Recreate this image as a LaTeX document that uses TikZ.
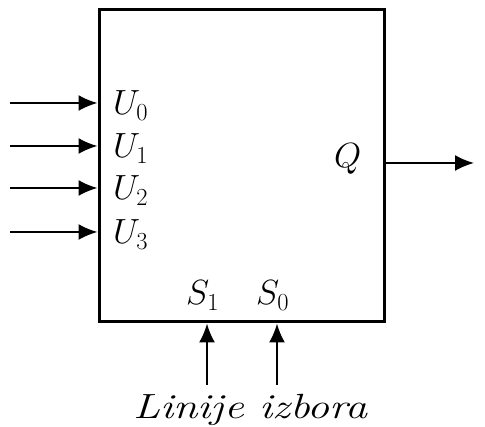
\RequirePackage{fix-cm}
\documentclass[tikz,border=0pt]{standalone}
\usepackage{graphicx}
\usetikzlibrary{arrows.meta}
\begin{document}
\begin{tikzpicture}[
      x=1pt, y=1pt,
      block/.style={draw, line width=3pt, minimum width=285pt, minimum height=312pt, inner sep=0pt},
      signal/.style={draw, -{Latex[length=19pt,width=16pt]}, line width=2pt},
      every node/.style={font=\fontsize{35}{42}\selectfont, inner sep=0pt}
    ]
      \useasboundingbox (0,0) rectangle (485,427);
      \node[block] (mux) at (241.5,261) {};
      % inputs
      \foreach \i/\y in {0/324, 1/281, 2/239, 3/195} {
        \coordinate (in\i) at (10,\y);
        \draw[signal] (in\i) -- (in\i -| mux.west);
        \node[anchor=base west] (u\i) at (113,\y-12) {$U_{\i}$};
      }
      % output
      \node[anchor=base west] (q) at (334,259) {$Q$};
      \coordinate (out) at (474,264);
      \draw[signal] (out -| mux.east) -- (out);
      % select lines
      \node[anchor=base west] (s1) at (186,122) {$S_1$};
      \node[anchor=base west] (s0) at (256,122) {$S_0$};
      \coordinate (sel1) at (207,42);
      \coordinate (sel0) at (277,42);
      \draw[signal] (sel1) -- (sel1 |- mux.south);
      \draw[signal] (sel0) -- (sel0 |- mux.south);
      \node[anchor=base west] (sel) at (133,8) {\resizebox{235pt}{\height}{\textit{Linije izbora}}};
    \end{tikzpicture}
\end{document}
